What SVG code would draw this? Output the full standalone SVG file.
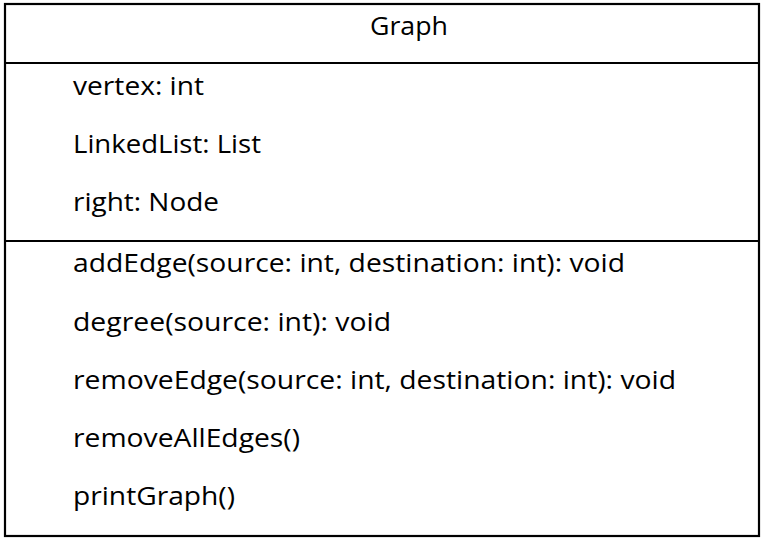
<svg xmlns="http://www.w3.org/2000/svg" width="764" height="542" viewBox="0 0 764 542">
<style>
text{font-family:"Open Sans","Liberation Sans",sans-serif;font-size:26px;fill:#000}
.ln{stroke:#000;stroke-width:2.2;fill:none}
</style>
<rect width="764" height="542" fill="#fff"/>
<g id="Graph">
<rect class="ln" x="5" y="4" width="754" height="532"/>
<line class="ln" x1="5" y1="63" x2="759" y2="63"/>
<line class="ln" x1="5" y1="241" x2="759" y2="241"/>
<text x="370" y="35" textLength="78" lengthAdjust="spacingAndGlyphs">Graph</text>
<text x="73" y="95" textLength="131" lengthAdjust="spacingAndGlyphs">vertex: int</text>
<text x="73" y="153" textLength="188" lengthAdjust="spacingAndGlyphs">LinkedList: List</text>
<text x="73" y="211" textLength="146" lengthAdjust="spacingAndGlyphs">right: Node</text>
<text x="73" y="272" textLength="552" lengthAdjust="spacingAndGlyphs">addEdge(source: int, destination: int): void</text>
<text x="73" y="331" textLength="318" lengthAdjust="spacingAndGlyphs">degree(source: int): void</text>
<text x="73" y="389" textLength="603" lengthAdjust="spacingAndGlyphs">removeEdge(source: int, destination: int): void</text>
<text x="73" y="447" textLength="227" lengthAdjust="spacingAndGlyphs">removeAllEdges()</text>
<text x="73" y="505" textLength="162" lengthAdjust="spacingAndGlyphs">printGraph()</text>
</g>
<g id="connectors"></g>
</svg>
